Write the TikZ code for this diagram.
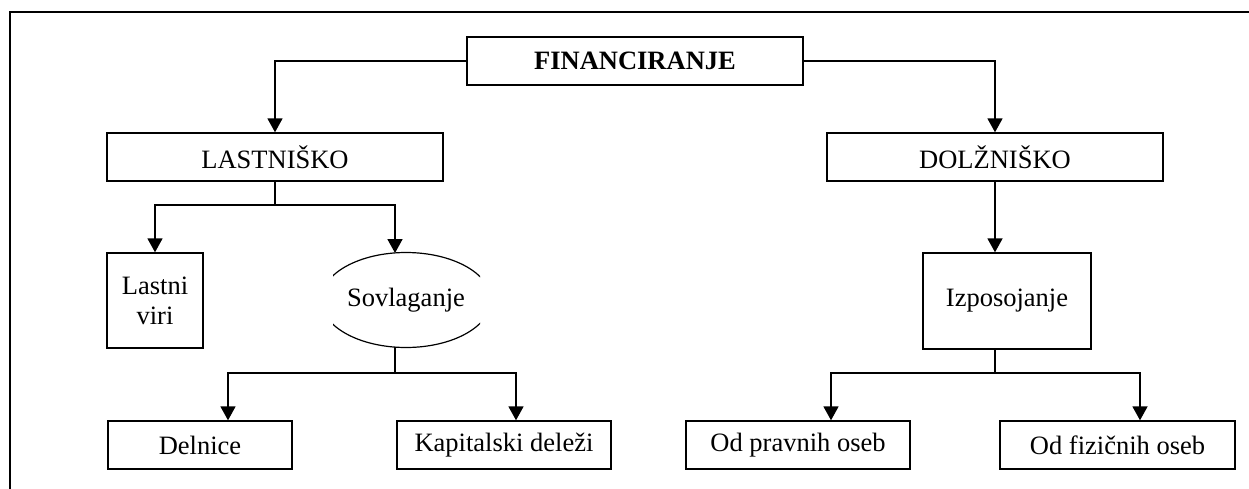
\documentclass[tikz,border=0pt]{standalone}
\usepackage{fontspec}
\setmainfont{Liberation Serif}
\usetikzlibrary{arrows.meta,shapes.geometric}

\begin{document}
\begin{tikzpicture}[
    x=0.5pt, y=-0.5pt,
    box/.style={draw, line width=0.7pt, minimum height=24pt, inner sep=0pt,
                align=center, font=\fontsize{13.25}{15}\selectfont},
    arr/.style={-{Triangle[width=7.5pt,length=7pt]}, line width=0.9pt},
    conn/.style={line width=0.9pt}
]
    \useasboundingbox (0,0) rectangle (1249,488);
    \draw[line width=0.7pt] (10,12) rectangle (1300,540);

    % vrh
    \node[box, minimum width=168pt] (fin)  at (635,61)  {\textbf{FINANCIRANJE}};
    \node[box, minimum width=168pt] (last) at (275,157) {LASTNIŠKO};
    \node[box, minimum width=168pt] (dolz) at (995,157) {DOLŽNIŠKO};

    % srednja vrsta
    \node[box, minimum width=48pt, minimum height=47.5pt] (viri) at (155,300.5) {Lastni\\viri};
    \node[ellipse, minimum width=85pt, minimum height=47.5pt, inner sep=0pt,
          font=\fontsize{13.25}{15}\selectfont] (sov) at (406,300) {Sovlaganje};
    \node[box, minimum width=84pt, minimum height=48pt] (izp) at (1007,301) {Izposojanje};

    % spodnja vrsta
    \node[box, minimum width=92pt]    (deln) at (200,445)    {Delnice};
    \node[box, minimum width=107pt]   (kap)  at (504,445)    {Kapitalski deleži};
    \node[box, minimum width=112pt]   (prav) at (798,445)    {Od pravnih oseb};
    \node[box, minimum width=117.5pt] (fiz)  at (1117.5,445) {Od fizičnih oseb};

    % elipsa brez stranskih lokov
    \begin{scope}
        \clip (333,240) rectangle (480,360);
        \draw[line width=0.6pt] (sov.center) ellipse [x radius=42.5pt, y radius=23.75pt];
    \end{scope}

    \coordinate (sovin)     at (395,253);
    \coordinate (sovout)    at (395,347);
    \coordinate (lastsplit) at (275,205);
    \coordinate (sovsplit)  at (395,373);
    \coordinate (izpsplit)  at (995,373);

    \draw[arr] (fin.west) -| (last.north);
    \draw[arr] (fin.east) -| (dolz.north);

    \draw[conn] (last.south) -- (lastsplit);
    \draw[arr]  (lastsplit) -| (viri.north);
    \draw[arr]  (lastsplit) -| (sovin);

    \draw[arr] (dolz.south) -- (dolz.south |- izp.north);

    \draw[conn] (sovout) -- (sovsplit);
    \draw[arr]  (sovsplit) -| ([xshift=14pt]deln.north);
    \draw[arr]  (sovsplit) -| ([xshift=6pt]kap.north);

    \draw[conn] (izp.south -| dolz.south) -- (izpsplit);
    \draw[arr]  (izpsplit) -| ([xshift=16.5pt]prav.north);
    \draw[arr]  (izpsplit) -| ([xshift=11.25pt]fiz.north);
\end{tikzpicture}
\end{document}
